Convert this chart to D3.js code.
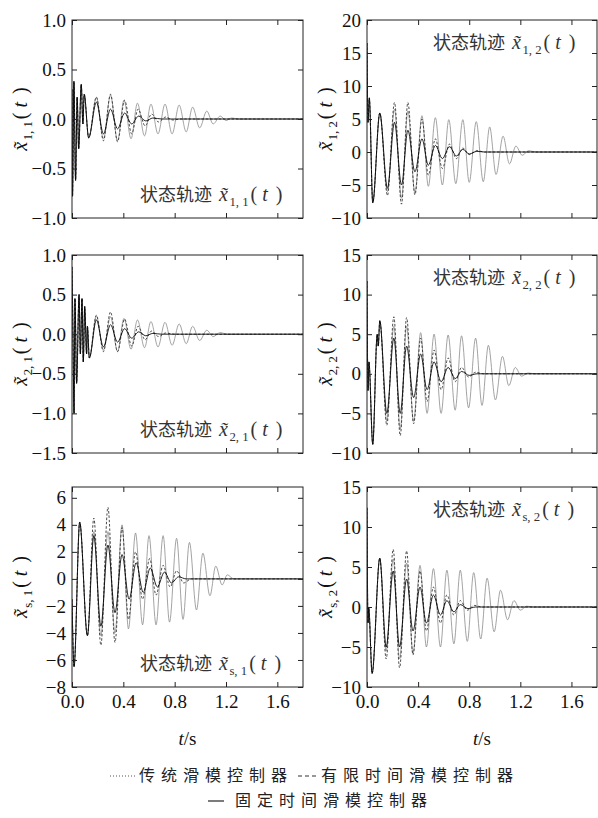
<!DOCTYPE html>
<html><head><meta charset="utf-8">
<script src="https://cdn.jsdelivr.net/npm/d3@7"></script>
<style>body{margin:0;background:#fff} svg{display:block}</style>
</head><body>
<svg id="chart" width="598" height="818"></svg>
<script>
// ---------------- DATA ----------------
const xTicks = [0, 0.4, 0.8, 1.2, 1.6];
const xDomain = [0, 1.8];
const legendLabels = ["传统滑模控制器", "有限时间滑模控制器", "固定时间滑模控制器"];
const annotationPrefix = "状态轨迹";

const yTicks11 = [-1, -0.5, 0, 0.5, 1];
const yTicks12 = [-10, -5, 0, 5, 10, 15, 20];
const yTicks21 = [-1.5, -1, -0.5, 0, 0.5, 1];
const yTicks22 = [-10, -5, 0, 5, 10, 15];
const yTicksS1 = [-8, -6, -4, -2, 0, 2, 4, 6];
const yTicksS2 = [-10, -5, 0, 5, 10, 15];

// x~_{1,1}(t)
const x11Start = [[0,0.3],[0.004,-0.78],[0.015,0.38],[0.028,-0.62],[0.04,0.22],[0.052,-0.3],[0.072,0.35],[0.085,-0.05],[0.095,0.25],[0.13,-0.19]];
const x11Trad = [[0.19,0.22],[0.245,-0.2],[0.30,0.24],[0.355,-0.22],[0.405,0.19],[0.46,-0.2],[0.51,0.16],[0.565,-0.17],[0.615,0.15],[0.67,-0.15],[0.725,0.15],[0.78,-0.15],[0.835,0.14],[0.89,-0.13],[0.94,0.12],[0.995,-0.09],[1.05,0.08],[1.10,-0.05],[1.155,0.03],[1.2,-0.015],[1.245,0.01],[1.3,0],[1.8,0]];
const x11Finite = [[0.19,0.22],[0.245,-0.22],[0.30,0.25],[0.355,-0.23],[0.41,0.19],[0.465,-0.15],[0.515,0.1],[0.57,-0.07],[0.62,0.05],[0.675,-0.03],[0.73,0.02],[0.785,-0.01],[0.85,0],[1.8,0]];
const x11Fixed = [[0.19,0.17],[0.245,-0.15],[0.30,0.1],[0.355,-0.1],[0.41,0.06],[0.465,-0.05],[0.52,0.03],[0.575,-0.02],[0.63,0.01],[0.7,0],[1.8,0]];

// x~_{1,2}(t)
const x12Start = [[0,16.5],[0.008,4.5],[0.018,8.2],[0.045,-7.7],[0.10,5.9]];
const x12Trad = [[0.16,-6.0],[0.215,6.5],[0.27,-7.0],[0.32,6.2],[0.375,-6.2],[0.43,5.5],[0.48,-5.2],[0.535,5.2],[0.59,-5.0],[0.64,4.9],[0.695,-4.8],[0.75,4.9],[0.80,-4.6],[0.855,4.6],[0.91,-4.5],[0.96,3.8],[1.01,-3.4],[1.065,2.4],[1.115,-1.8],[1.165,0.9],[1.215,-0.5],[1.265,0.2],[1.32,0],[1.8,0]];
const x12Finite = [[0.16,-6.6],[0.215,7.5],[0.27,-7.9],[0.32,7.5],[0.375,-6.5],[0.43,5.0],[0.48,-3.5],[0.535,2.0],[0.59,-2.5],[0.645,1.2],[0.70,-1.0],[0.75,0.6],[0.80,-0.4],[0.86,0.2],[0.92,0],[1.8,0]];
const x12Fixed = [[0.16,-5.5],[0.215,4.5],[0.27,-5.0],[0.32,3.3],[0.375,-3.0],[0.43,2.0],[0.48,-2.0],[0.535,1.0],[0.59,-1.0],[0.645,0.8],[0.70,-0.6],[0.75,0.4],[0.80,-0.3],[0.86,0.1],[0.92,0],[1.8,0]];

// x~_{2,1}(t)
const x21Start = [[0,0.85],[0.006,0.2],[0.016,-1.0],[0.023,0.45],[0.036,-0.62],[0.055,0.5],[0.065,-0.25],[0.078,0.45],[0.088,-0.35],[0.099,0.35],[0.114,-0.25],[0.12,0.1],[0.135,-0.3]];
const x21Trad = [[0.19,0.23],[0.245,-0.2],[0.30,0.22],[0.355,-0.22],[0.405,0.2],[0.46,-0.19],[0.51,0.18],[0.565,-0.17],[0.615,0.16],[0.67,-0.16],[0.725,0.15],[0.78,-0.14],[0.835,0.13],[0.89,-0.12],[0.94,0.1],[0.995,-0.08],[1.05,0.05],[1.10,-0.03],[1.155,0.02],[1.21,0],[1.8,0]];
const x21Finite = [[0.19,0.24],[0.245,-0.22],[0.30,0.28],[0.355,-0.22],[0.41,0.19],[0.465,-0.15],[0.515,0.1],[0.57,-0.07],[0.62,0.04],[0.675,-0.03],[0.73,0.015],[0.8,0],[1.8,0]];
const x21Fixed = [[0.19,0.18],[0.245,-0.16],[0.30,0.12],[0.355,-0.1],[0.41,0.07],[0.465,-0.05],[0.52,0.03],[0.575,-0.02],[0.63,0.01],[0.7,0],[1.8,0]];

// x~_{2,2}(t)
const x22Start = [[0,11.7],[0.008,-2.1],[0.015,1.5],[0.045,-8.9],[0.08,5.0],[0.088,3.5],[0.10,6.7]];
const x22Trad = [[0.155,-6.0],[0.21,6.0],[0.26,-7.0],[0.31,6.0],[0.365,-6.0],[0.42,5.2],[0.47,-5.0],[0.525,5.0],[0.58,-5.0],[0.635,4.9],[0.69,-4.6],[0.74,4.8],[0.795,-4.3],[0.85,4.5],[0.90,-4.0],[0.95,3.6],[1.005,-3.3],[1.06,2.2],[1.11,-1.5],[1.16,0.8],[1.21,-0.3],[1.26,0.1],[1.31,0],[1.8,0]];
const x22Finite = [[0.155,-6.5],[0.21,7.2],[0.26,-7.8],[0.31,7.1],[0.365,-6.3],[0.42,4.5],[0.47,-3.5],[0.525,3.0],[0.58,-2.0],[0.635,2.0],[0.69,-1.0],[0.74,0.8],[0.795,-0.4],[0.85,0.2],[0.91,0],[1.8,0]];
const x22Fixed = [[0.155,-5.0],[0.21,4.5],[0.26,-5.0],[0.31,3.5],[0.365,-3.0],[0.42,2.5],[0.47,-2.0],[0.525,1.5],[0.58,-1.0],[0.635,0.8],[0.69,-0.6],[0.74,0.3],[0.80,-0.2],[0.86,0],[1.8,0]];

// x~_{s,1}(t)
const xs1Start = [[0,-1.5],[0.016,-6.5],[0.06,4.2],[0.12,-4.2]];
const xs1Trad = [[0.17,3.5],[0.225,-4.2],[0.28,3.5],[0.335,-4.0],[0.39,4.0],[0.44,-3.7],[0.495,3.4],[0.55,-3.4],[0.60,3.2],[0.655,-3.4],[0.71,3.2],[0.76,-3.2],[0.815,3.0],[0.865,-3.0],[0.915,2.7],[0.97,-2.3],[1.02,1.9],[1.075,-1.25],[1.12,0.95],[1.17,-0.45],[1.21,0.3],[1.26,0],[1.8,0]];
const xs1Finite = [[0.17,4.5],[0.225,-4.9],[0.28,5.3],[0.335,-4.7],[0.39,3.8],[0.44,-3.0],[0.495,2.0],[0.55,-1.5],[0.605,1.5],[0.655,-1.2],[0.71,1.0],[0.765,-0.6],[0.815,0.6],[0.87,-0.3],[0.93,0],[1.8,0]];
const xs1Fixed = [[0.17,3.2],[0.225,-3.5],[0.28,2.5],[0.335,-2.5],[0.39,1.8],[0.445,-1.5],[0.50,1.2],[0.555,-1.0],[0.61,0.8],[0.665,-0.6],[0.72,0.5],[0.775,-0.3],[0.83,0.15],[0.89,0],[1.8,0]];

// x~_{s,2}(t)
const xs2Start = [[0,12.4],[0.008,-2],[0.013,0],[0.04,-8.3],[0.10,6.1]];
const xs2Trad = [[0.15,-5.5],[0.205,6.0],[0.255,-6.5],[0.31,5.5],[0.36,-5.8],[0.415,5.2],[0.465,-5.0],[0.52,4.8],[0.575,-5.0],[0.625,4.6],[0.68,-4.6],[0.73,4.6],[0.785,-4.3],[0.835,4.3],[0.89,-4.0],[0.94,3.6],[0.995,-3.1],[1.045,2.1],[1.10,-1.6],[1.15,0.8],[1.2,-0.4],[1.25,0.1],[1.3,0],[1.8,0]];
const xs2Finite = [[0.15,-6.5],[0.205,7.2],[0.255,-7.6],[0.31,7.0],[0.36,-6.0],[0.415,4.5],[0.465,-3.0],[0.52,2.5],[0.575,-2.0],[0.625,1.5],[0.68,-1.0],[0.73,0.8],[0.785,-0.4],[0.84,0.2],[0.9,0],[1.8,0]];
const xs2Fixed = [[0.15,-5.0],[0.205,4.5],[0.255,-5.0],[0.31,3.5],[0.36,-3.0],[0.415,2.5],[0.465,-2.0],[0.52,1.5],[0.575,-1.0],[0.625,0.8],[0.68,-0.6],[0.73,0.3],[0.79,-0.2],[0.85,0],[1.8,0]];

// ---------------- LAYOUT ----------------
const colL = [72, 367], colR = [303, 597];
const rowT = [20, 255, 487], rowB = [218, 453, 687];
const serif = "'Liberation Serif','Times New Roman',serif";
const cjk = "'Noto Sans CJK SC','Noto Sans CJK JP',sans-serif";
const colTrad = "#8c8c8c", colFinite = "#2a2a2a", colFixed = "#000";

const panels = [
  {sub:"1,1", col:0, row:0, dom:[-1,1], ticks:yTicks11, fmt:".1f", start:x11Start, trad:x11Trad, finite:x11Finite, fixed:x11Fixed},
  {sub:"1,2", col:1, row:0, dom:[-10,20], ticks:yTicks12, fmt:"d", start:x12Start, trad:x12Trad, finite:x12Finite, fixed:x12Fixed},
  {sub:"2,1", col:0, row:1, dom:[-1.5,1], ticks:yTicks21, fmt:".1f", start:x21Start, trad:x21Trad, finite:x21Finite, fixed:x21Fixed},
  {sub:"2,2", col:1, row:1, dom:[-10,15], ticks:yTicks22, fmt:"d", start:x22Start, trad:x22Trad, finite:x22Finite, fixed:x22Fixed},
  {sub:"s,1", col:0, row:2, dom:[-8,6.8], ticks:yTicksS1, fmt:"d", start:xs1Start, trad:xs1Trad, finite:xs1Finite, fixed:xs1Fixed},
  {sub:"s,2", col:1, row:2, dom:[-10,15], ticks:yTicksS2, fmt:"d", start:xs2Start, trad:xs2Trad, finite:xs2Finite, fixed:xs2Fixed}
];

const svg = d3.select("#chart");
svg.append("rect").attr("width",598).attr("height",818).attr("fill","#fff");

function mathLabel(textSel, sub, size) {
  textSel.append("tspan").attr("font-family", serif).attr("font-style","italic").text("x\u0303");
  textSel.append("tspan").attr("font-family", serif).attr("font-size", size*0.64).attr("dx", 1.5).attr("dy", size*0.25).text(sub.replace(",", ", "));
  textSel.append("tspan").attr("font-family", serif).attr("dx", 2).attr("dy", -size*0.25).text("(");
  textSel.append("tspan").attr("font-family", serif).attr("font-style","italic").attr("dx", 5).text("t");
  textSel.append("tspan").attr("font-family", serif).attr("dx", 8).text(")");
}

panels.forEach((p, i) => {
  const L = colL[p.col], R = colR[p.col], T = rowT[p.row], B = rowB[p.row];
  const x = d3.scaleLinear().domain(xDomain).range([L, R]);
  const y = d3.scaleLinear().domain(p.dom).range([B, T]);
  const g = svg.append("g");
  const clipId = "clip" + i;
  svg.append("clipPath").attr("id", clipId).append("rect").attr("x", L).attr("y", T).attr("width", R-L).attr("height", B-T);

  const line = d3.line().x(d => x(d[0])).y(d => y(d[1])).curve(d3.curveMonotoneX);
  const plot = g.append("g").attr("clip-path", `url(#${clipId})`);
  plot.append("path").datum(p.start.concat(p.trad)).attr("d", line).attr("fill","none")
      .attr("stroke", colTrad).attr("stroke-width", 0.8);
  plot.append("path").datum(p.start.concat(p.finite)).attr("d", line).attr("fill","none")
      .attr("stroke", colFinite).attr("stroke-width", 0.85).attr("stroke-dasharray","2.5,1.8");
  plot.append("path").datum(p.start.concat(p.fixed)).attr("d", line).attr("fill","none")
      .attr("stroke", colFixed).attr("stroke-width", 0.85);

  // axes (inward ticks on all sides)
  const fmt = d3.format(p.fmt);
  const showX = p.row === 2;
  const ax = g.append("g").attr("transform", `translate(0,${B})`)
    .call(d3.axisBottom(x).tickValues(xTicks).tickSizeInner(-5).tickSizeOuter(0).tickPadding(7.5)
      .tickFormat(showX ? d3.format(".1f") : () => ""));
  const at = g.append("g").attr("transform", `translate(0,${T})`)
    .call(d3.axisTop(x).tickValues(xTicks).tickSizeInner(-5).tickSizeOuter(0).tickFormat(() => ""));
  const ay = g.append("g").attr("transform", `translate(${L},0)`)
    .call(d3.axisLeft(y).tickValues(p.ticks).tickSizeInner(-5).tickSizeOuter(0).tickPadding(6).tickFormat(fmt));
  const ar = g.append("g").attr("transform", `translate(${R},0)`)
    .call(d3.axisRight(y).tickValues(p.ticks).tickSizeInner(-5).tickSizeOuter(0).tickFormat(() => ""));
  [ax, at, ay, ar].forEach(a => {
    a.select(".domain").remove();
    a.selectAll("line").attr("stroke", "#222").attr("stroke-width", 1);
    a.selectAll("text").attr("font-family", serif).attr("font-size", 19).attr("fill", "#111");
  });
  ay.selectAll("text").attr("dy", "0.32em");
  g.append("rect").attr("x", L).attr("y", T).attr("width", R-L).attr("height", B-T)
    .attr("fill","none").attr("stroke","#222").attr("stroke-width",1);

  // y-axis label (rotated)
  const lx = p.col === 0 ? 27 : 332;
  const yl = g.append("text").attr("transform", `translate(${lx},${(T+B)/2}) rotate(-90)`)
    .attr("text-anchor","middle").attr("font-size", 20).attr("fill","#111");
  mathLabel(yl, p.sub, 20);

  // annotation
  const ay0 = p.col === 0 ? B - 17 : T + 29;
  const ann = g.append("text").attr("x", p.col === 0 ? 140 : 433).attr("y", ay0)
    .attr("font-size", 20).attr("fill", "#333");
  ann.append("tspan").attr("font-family", cjk).attr("font-size", 18).text(annotationPrefix);
  ann.append("tspan").attr("font-family", serif).attr("dx", 2).text(" ");
  mathLabel(ann, p.sub, 20);

  // x label
  if (showX) {
    const xl = g.append("text").attr("x", (L+R)/2).attr("y", 745).attr("text-anchor","middle")
      .attr("font-family", serif).attr("font-size", 19).attr("fill","#111");
    xl.append("tspan").attr("font-style","italic").text("t");
    xl.append("tspan").text("/s");
  }
});

// legend
const lg = svg.append("g");
lg.append("line").attr("x1",110).attr("x2",136).attr("y1",776).attr("y2",776)
  .attr("stroke","#555").attr("stroke-width",1.2).attr("stroke-dasharray","1,2");
lg.append("text").attr("x",139).attr("y",781).attr("font-family",cjk).attr("font-size",16)
  .attr("letter-spacing","6px").attr("fill","#222").text(legendLabels[0]);
lg.append("line").attr("x1",298).attr("x2",318).attr("y1",776).attr("y2",776)
  .attr("stroke","#333").attr("stroke-width",1.2).attr("stroke-dasharray","4,3");
lg.append("text").attr("x",321).attr("y",781).attr("font-family",cjk).attr("font-size",16)
  .attr("letter-spacing","6px").attr("fill","#222").text(legendLabels[1]);
lg.append("line").attr("x1",208).attr("x2",224).attr("y1",801).attr("y2",801)
  .attr("stroke","#222").attr("stroke-width",1.2);
lg.append("text").attr("x",235).attr("y",806).attr("font-family",cjk).attr("font-size",16)
  .attr("letter-spacing","6px").attr("fill","#222").text(legendLabels[2]);
</script></body></html>
